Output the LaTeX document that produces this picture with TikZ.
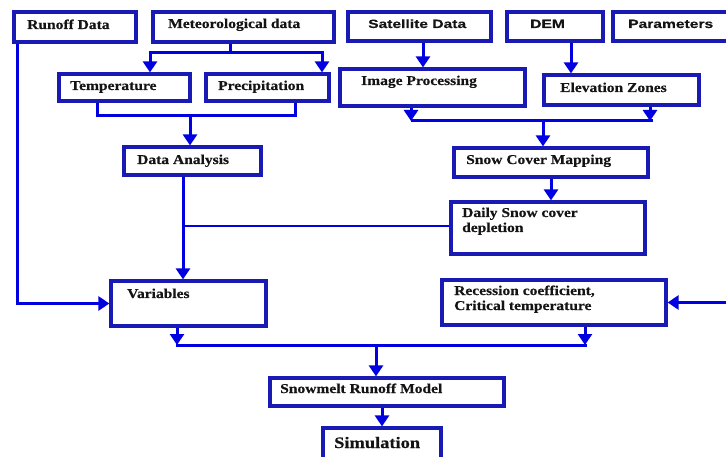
\documentclass[tikz,border=0pt]{standalone}
\usepackage{fontspec}
\usetikzlibrary{fit,arrows.meta,calc}
\newfontface\sbf{Liberation Serif Bold}[FakeStretch=1.15,FakeBold=0.4]
\newfontface\ssf{Liberation Sans Bold}[FakeStretch=1.3,FakeBold=0.3]
\definecolor{boxc}{RGB}{25,25,180}
\definecolor{linec}{RGB}{0,0,225}
\definecolor{txtc}{RGB}{20,20,20}
\begin{document}
\begin{tikzpicture}[x=1pt,y=-1pt,
 box/.style={draw=boxc,line width=3.2pt,inner sep=0pt},
 ln/.style={draw=linec,line width=3pt},
 arr/.style={ln,-{Triangle[width=14pt,length=11pt]}},
 st/.style={font=\sbf\fontsize{13.5}{15}\selectfont,text=txtc,anchor=base west,inner sep=0pt},
 sbig/.style={font=\sbf\fontsize{16}{18}\selectfont,text=txtc,anchor=base west,inner sep=0pt},
 ss/.style={font=\ssf\fontsize{12}{14}\selectfont,text=txtc,anchor=base west,inner sep=0pt}]
\useasboundingbox (0,0) rectangle (726,457);
\clip (0,0) rectangle (726,457);
\fill[white] (0,0) rectangle (726,457);

% boxes
\node[box,fit={(14,12)(136,42)}] (runoff) {};
\node[box,fit={(153,12)(334,42)}] (meteo) {};
\node[box,fit={(348,12)(491,41)}] (sat) {};
\node[box,fit={(507,12)(603,41)}] (dem) {};
\node[box,fit={(613,12)(740,41)}] (param) {};
\node[box,fit={(59,74)(190,101)}] (temp) {};
\node[box,fit={(206,74)(329,101)}] (prec) {};
\node[box,fit={(340,69)(525,106)}] (imgp) {};
\node[box,fit={(544,75)(699,105)}] (elev) {};
\node[box,fit={(124,147)(261,175)}] (dana) {};
\node[box,fit={(454,148)(648,177)}] (scm) {};
\node[box,fit={(451,202)(645,254)}] (daily) {};
\node[box,fit={(111,281)(266,326)}] (vars) {};
\node[box,fit={(442,280)(666,325)}] (rec) {};
\node[box,fit={(270,378)(504,406)}] (srm) {};
\node[box,fit={(323,428)(441,470)}] (sim) {};

% texts
\node[st] (runoff-t) at (27,29) {Runoff Data};
\node[st] (meteo-t) at (168,28) {Meteorological data};
\node[ss] (sat-t) at (368,28) {Satellite Data};
\node[ss] (dem-t) at (530,28) {DEM};
\node[ss] (param-t) at (628,28) {Parameters};
\node[st] (temp-t) at (70,90) {Temperature};
\node[st] (prec-t) at (218,90) {Precipitation};
\node[st] (imgp-t) at (361,85) {Image Processing};
\node[st] (elev-t) at (560,92) {Elevation Zones};
\node[st] (dana-t) at (137,164) {Data Analysis};
\node[st] (scm-t) at (466,164) {Snow Cover Mapping};
\node[st] (daily-t1) at (462,217) {Daily Snow cover};
\node[st] (daily-t2) at (462,232) {depletion};
\node[st] (vars-t) at (127,298) {Variables};
\node[st] (rec-t1) at (454,295) {Recession coefficient,};
\node[st] (rec-t2) at (454,310) {Critical temperature};
\node[st] (srm-t) at (280,393) {Snowmelt Runoff Model};
\node[sbig] (sim-t) at (334,448) {Simulation};

% meteorological split
\coordinate (mL) at (150,53);
\coordinate (mR) at (322,53);
\draw[ln] ([xshift=-13.5pt]meteo.south) -- ([xshift=-13.5pt]meteo.south |- mL);
\draw[ln] ([xshift=-1.5pt]mL) -- ([xshift=1.5pt]mR);
\draw[arr] (mL) -- (mL |- temp.north);
\draw[arr] (mR) -- (mR |- prec.north);

% temperature / precipitation merge
\coordinate (tp) at (190,116);
\draw[ln] ([xshift=-27.5pt]temp.south) |- (tp) -| ([xshift=27.5pt]prec.south);
\draw[arr] (tp) -- (tp |- dana.north);

% satellite, DEM
\draw[arr] ([xshift=3.5pt]sat.south) -- ([xshift=3.5pt]sat.south |- imgp.north);
\draw[arr] ([xshift=16pt]dem.south) -- ([xshift=16pt]dem.south |- elev.north);

% image processing / elevation merge
\coordinate (iL) at (411,121);
\coordinate (iR) at (650,121);
\coordinate (iM) at (543,121);
\draw[arr] (iL |- imgp.south) -- (iL);
\draw[arr] (iR |- elev.south) -- (iR);
\draw[ln] (iL) -- ([xshift=3pt]iR);
\draw[arr] (iM) -- (iM |- scm.north);

% snow cover mapping -> daily
\draw[arr] (scm.south) -- (scm.south |- daily.north);

% data analysis -> variables, daily join
\coordinate (dv) at (183,226);
\draw[arr] (dv |- dana.south) -- (dv |- vars.north);
\draw[ln, line width=2.4pt] (dv) -- (daily.west |- dv);

% runoff -> variables
\draw[arr] ([xshift=5pt]runoff.south west) |- (vars.west);

% parameters -> recession
\draw[arr] ([xshift=55pt]param.south) |- (rec.east);

% variables / recession merge
\coordinate (bL) at (177,345);
\coordinate (bR) at (585,345);
\coordinate (bM) at (376,345);
\draw[arr] (bL |- vars.south) -- (bL);
\draw[arr] (bR |- rec.south) -- (bR);
\draw[ln] ([xshift=-1.5pt]bL) -- ([xshift=1.5pt]bR);
\draw[arr] (bM) -- (bM |- srm.north);

% snowmelt -> simulation
\draw[arr] (sim.north |- srm.south) -- (sim.north);
\end{tikzpicture}
\end{document}
